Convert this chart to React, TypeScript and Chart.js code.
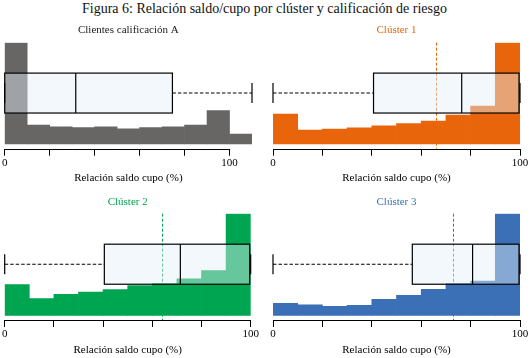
import React, { useEffect, useRef } from 'react';
import { Chart, registerables } from 'chart.js';

Chart.register(...registerables);

// ---------- text ----------
const FIGURE_TITLE = 'Figura 6: Relación saldo/cupo por clúster y calificación de riesgo';
const AXIS_TITLE = 'Relación saldo cupo (%)';
const PANEL_TITLES = ['Clientes calificación A', 'Clúster 1', 'Clúster 2', 'Clúster 3'];
const TICK_VALUES = [0, 20, 40, 60, 80, 100];
const TICK_LABELS = ['0', '', '', '', '', '100'];

// ---------- data ----------
// histogram bin centres (bins of 10 points)
const binsA = [5, 15, 25, 35, 45, 55, 65, 75, 85, 95, 105];
const binsC = [5, 15, 25, 35, 45, 55, 65, 75, 85, 95];

// relative frequencies (%)
const freqA = [35.8, 6.7, 6.1, 5.8, 6.1, 5.4, 5.8, 6.1, 6.7, 11.8, 3.5];
const freq1 = [9.8, 4.6, 4.9, 5.3, 6.0, 6.7, 7.5, 9.5, 12.4, 33.2];
const freq2 = [8.5, 4.6, 5.8, 6.4, 7.1, 8.2, 8.8, 10.1, 12.4, 28.1];
const freq3 = [4.4, 3.9, 3.3, 3.7, 5.9, 7.4, 9.6, 11.7, 12.6, 37.4];

// box stats: [whisker low, Q1, median, Q3, whisker high]
const boxA = [0, 0, 31.6, 74.6, 110];
const box1 = [0, 40.7, 76.4, 99.6, 100];
const box2 = [0, 40.5, 71.4, 99.6, 100];
const box3 = [0, 56.4, 80.8, 99.6, 100];

// means (dashed line)
const meanA: number | null = null;
const mean1 = 65.8;
const mean2 = 64.1;
const mean3 = 72.9;

const xMaxA = 110;
const xMaxC = 100;

// ---------- style ----------
const SERIF = "'Liberation Serif', 'Times New Roman', serif";
const COLORS = ['#686565', '#e8650c', '#00a551', '#3b70b6'];
const TITLE_COLORS = ['#1a1a1a', '#e8650c', '#00a551', '#3b70b6'];
const BOX_FILL = 'rgba(226,239,248,0.45)';

const boxPlugin = {
  id: 'boxOverlay',
  afterDatasetsDraw(chart: any, _args: any, opts: any) {
    const { ctx, chartArea } = chart;
    const x = chart.scales.x;
    const y = chart.scales.y;
    const [lo, q1, med, q3, hi] = opts.stats;
    const yMax = y.max;
    ctx.save();
    // axis line from 0 to 100
    const ay = Math.round(chartArea.bottom) + 0.5;
    ctx.strokeStyle = '#000';
    ctx.lineWidth = 1;
    ctx.beginPath();
    ctx.moveTo(x.getPixelForValue(0), ay);
    ctx.lineTo(x.getPixelForValue(100), ay);
    ctx.stroke();

    // mean line
    if (opts.mean !== null && opts.mean !== undefined) {
      const mx = Math.round(x.getPixelForValue(opts.mean)) + 0.5;
      ctx.setLineDash([3, 2]);
      ctx.strokeStyle = opts.color;
      ctx.beginPath();
      ctx.moveTo(mx, chartArea.top);
      ctx.lineTo(mx, chartArea.bottom);
      ctx.stroke();
      ctx.setLineDash([]);
    }

    const top = y.getPixelForValue(yMax * 0.7);
    const bot = y.getPixelForValue(yMax * 0.306);
    const mid = (top + bot) / 2;
    const capH = (bot - top) / 4;
    const xl = x.getPixelForValue(q1);
    const xr = x.getPixelForValue(q3);
    const xm = x.getPixelForValue(med);
    const xlo = x.getPixelForValue(lo);
    const xhi = x.getPixelForValue(hi);

    ctx.fillStyle = BOX_FILL;
    ctx.fillRect(xl, top, xr - xl, bot - top);
    ctx.strokeStyle = '#000';
    ctx.lineWidth = 1.2;
    ctx.strokeRect(xl, top, xr - xl, bot - top);
    ctx.beginPath();
    ctx.moveTo(xm, top);
    ctx.lineTo(xm, bot);
    ctx.stroke();

    // whiskers
    ctx.setLineDash([3.5, 2]);
    ctx.lineWidth = 1.1;
    if (q1 > lo) {
      ctx.beginPath();
      ctx.moveTo(xlo, mid);
      ctx.lineTo(xl, mid);
      ctx.stroke();
    }
    if (hi > q3) {
      ctx.beginPath();
      ctx.moveTo(xr, mid);
      ctx.lineTo(xhi, mid);
      ctx.stroke();
    }
    ctx.setLineDash([]);
    ctx.lineWidth = 1.2;
    ctx.beginPath();
    ctx.moveTo(xlo, mid - capH);
    ctx.lineTo(xlo, mid + capH);
    ctx.moveTo(xhi, mid - capH);
    ctx.lineTo(xhi, mid + capH);
    ctx.stroke();
    ctx.restore();
  },
};

type PanelProps = {
  left: number;
  top: number;
  width: number;
  height: number;
  padLeft: number;
  padRight: number;
  titlePadTop: number;
  titlePadBottom: number;
  axisHeight: number;
  title: string;
  titleColor: string;
  color: string;
  bins: number[];
  freq: number[];
  stats: number[];
  mean: number | null;
  xMax: number;
};

function Panel(p: PanelProps) {
  const ref = useRef<HTMLCanvasElement | null>(null);
  useEffect(() => {
    if (!ref.current) return;
    const yMax = Math.max(...p.freq);
    const chart = new Chart(ref.current, {
      type: 'bar',
      data: {
        datasets: [
          {
            data: p.bins.map((b, i) => ({ x: b, y: p.freq[i] })),
            backgroundColor: p.color,
            borderWidth: 0,
            barPercentage: 1,
            categoryPercentage: 1,
          } as any,
        ],
      },
      options: {
        responsive: false,
        animation: false,
        layout: { padding: { left: p.padLeft, right: p.padRight, top: 0, bottom: 0 } },
        plugins: {
          legend: { display: false },
          tooltip: { enabled: false },
          title: {
            display: true,
            text: p.title,
            color: p.titleColor,
            font: { family: SERIF, size: 11, weight: 'normal', lineHeight: 1.2 },
            padding: { top: p.titlePadTop, bottom: p.titlePadBottom },
          },
          boxOverlay: { stats: p.stats, mean: p.mean, color: p.color },
        } as any,
        scales: {
          x: {
            type: 'linear',
            min: 0,
            max: p.xMax,
            offset: false,
            grid: {
              display: true,
              offset: false,
              drawOnChartArea: false,
              drawTicks: true,
              tickLength: 7,
              color: '#000',
              lineWidth: 1,
            },
            border: { display: false },
            ticks: {
              stepSize: 20,
              includeBounds: false,
              autoSkip: false,
              maxRotation: 0,
              padding: 1,
              color: '#000',
              font: { family: SERIF, size: 11, lineHeight: 1.2 },
              callback: (v: any) => {
                const i = TICK_VALUES.indexOf(Number(v));
                return i >= 0 ? TICK_LABELS[i] : '';
              },
            },
            afterBuildTicks: (s: any) => {
              s.ticks = TICK_VALUES.map((v) => ({ value: v }));
            },
            afterFit: (s: any) => {
              s.height = p.axisHeight;
            },
            title: {
              display: true,
              text: AXIS_TITLE,
              color: '#000',
              font: { family: SERIF, size: 11, lineHeight: 1.2 },
              padding: { top: 0, bottom: 1.4 },
            },
          } as any,
          y: {
            display: false,
            min: -0.046 * yMax,
            max: yMax,
          },
        },
      },
      plugins: [boxPlugin as any],
    });
    return () => chart.destroy();
  }, []);
  return (
    <canvas
      ref={ref}
      width={p.width}
      height={p.height}
      style={{ position: 'absolute', left: p.left, top: p.top, width: p.width, height: p.height }}
    />
  );
}

export default function App() {
  const common = { titlePadTop: 5.4 };
  return (
    <div style={{ position: 'absolute', left: 0, top: 0, width: 531, height: 358, background: '#fff', overflow: 'hidden' }}>
      <div
        style={{
          position: 'absolute',
          left: 0,
          top: 0,
          width: 529,
          textAlign: 'center',
          fontFamily: SERIF,
          fontSize: 14,
          lineHeight: '17px',
          color: '#111',
          whiteSpace: 'nowrap',
        }}
      >
        {FIGURE_TITLE}
      </div>
      <Panel
        {...common}
        left={0}
        top={18}
        width={265}
        height={168}
        padLeft={4.7}
        padRight={13}
        titlePadBottom={6.1}
        axisHeight={37.3}
        title={PANEL_TITLES[0]}
        titleColor={TITLE_COLORS[0]}
        color={COLORS[0]}
        bins={binsA}
        freq={freqA}
        stats={boxA}
        mean={meanA}
        xMax={xMaxA}
      />
      <Panel
        {...common}
        left={265}
        top={18}
        width={266}
        height={168}
        padLeft={8}
        padRight={11}
        titlePadBottom={6.1}
        axisHeight={37.3}
        title={PANEL_TITLES[1]}
        titleColor={TITLE_COLORS[1]}
        color={COLORS[1]}
        bins={binsC}
        freq={freq1}
        stats={box1}
        mean={mean1}
        xMax={xMaxC}
      />
      <Panel
        {...common}
        left={0}
        top={190}
        width={265}
        height={168}
        padLeft={4.7}
        padRight={14.3}
        titlePadBottom={5.1}
        axisHeight={38}
        title={PANEL_TITLES[2]}
        titleColor={TITLE_COLORS[2]}
        color={COLORS[2]}
        bins={binsC}
        freq={freq2}
        stats={box2}
        mean={mean2}
        xMax={xMaxC}
      />
      <Panel
        {...common}
        left={265}
        top={190}
        width={266}
        height={168}
        padLeft={8}
        padRight={11}
        titlePadBottom={5.1}
        axisHeight={38}
        title={PANEL_TITLES[3]}
        titleColor={TITLE_COLORS[3]}
        color={COLORS[3]}
        bins={binsC}
        freq={freq3}
        stats={box3}
        mean={mean3}
        xMax={xMaxC}
      />
    </div>
  );
}
